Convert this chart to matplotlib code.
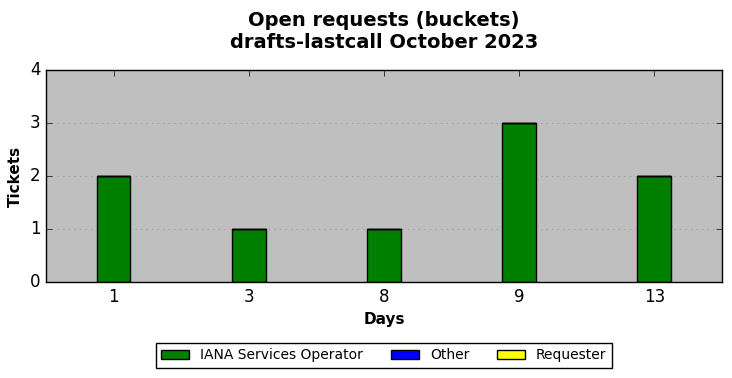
import numpy as np
import matplotlib
matplotlib.use('Agg')
import matplotlib.pyplot as plt

plt.style.use('classic')

days = ['1', '3', '8', '9', '13']
iana = [2, 1, 1, 3, 2]
other = [0, 0, 0, 0, 0]
requester = [0, 0, 0, 0, 0]

fig = plt.figure(figsize=(7.32, 3.78), dpi=100)
fig.patch.set_facecolor('white')
ax = fig.add_axes([0.0628, 0.254, 0.9235, 0.561])
ax.set_facecolor('#bfbfbf')

x = np.arange(len(days))
w = 0.25
ax.bar(x, iana, w, color='green', edgecolor='black', label='IANA Services Operator', align='center')
ax.bar(x, other, w, bottom=iana, color='blue', edgecolor='black', label='Other', align='center')
bottom2 = np.array(iana) + np.array(other)
ax.bar(x, requester, w, bottom=bottom2, color='yellow', edgecolor='black', label='Requester', align='center')

ax.set_xlim(-0.5, len(days) - 0.5)
ax.set_ylim(0, 4)
ax.set_xticks(x)
ax.set_xticklabels(days)
ax.set_yticks([0, 1, 2, 3, 4])
ax.yaxis.grid(True, color='#8c8c8c', linestyle=':')
ax.set_axisbelow(True)
ax.tick_params(labelsize=12)

ax.set_xlabel('Days', fontsize=11, fontweight='bold')
ax.set_ylabel('Tickets', fontsize=11, fontweight='bold')
ax.set_title('Open requests (buckets)\ndrafts-lastcall October 2023', fontsize=14, fontweight='bold', pad=16)

ax.legend(loc='upper center', bbox_to_anchor=(0.5, -0.254), ncol=3, fontsize=10, frameon=True)

fig.savefig('out.png', dpi=100, facecolor='white')
